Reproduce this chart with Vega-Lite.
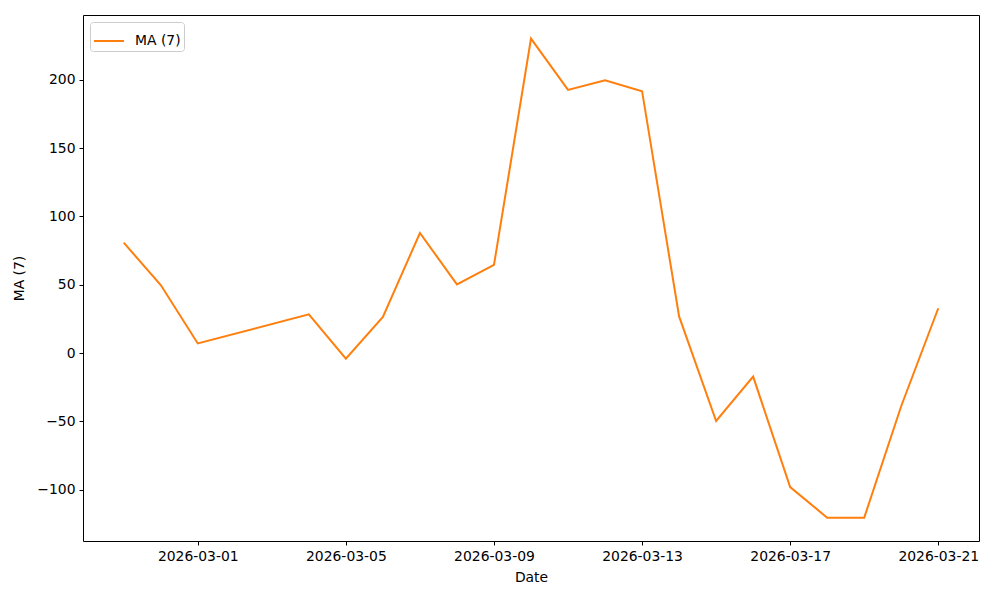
{
  "$schema": "https://vega.github.io/schema/vega-lite/v6.json",
  "width": 896,
  "height": 526,
  "autosize": "none",
  "padding": {"left": 83, "top": 15, "right": 21, "bottom": 59},
  "background": "white",
  "config": {
    "font": "DejaVu Sans",
    "view": {"stroke": "black", "strokeWidth": 1},
    "axis": {
      "grid": false,
      "domain": false,
      "tickColor": "black",
      "tickSize": 4,
      "tickWidth": 1,
      "labelColor": "black",
      "labelFontSize": 13.9,
      "labelFont": "DejaVu Sans",
      "titleFont": "DejaVu Sans",
      "titleFontSize": 13.9,
      "titleFontWeight": "normal",
      "titleColor": "black"
    }
  },
  "data": {
    "values": [
      {"date": "2026-02-27", "ma": 80.8, "series": "MA (7)"},
      {"date": "2026-02-28", "ma": 49.8, "series": "MA (7)"},
      {"date": "2026-03-01", "ma": 7.0, "series": "MA (7)"},
      {"date": "2026-03-04", "ma": 28.3, "series": "MA (7)"},
      {"date": "2026-03-05", "ma": -4.2, "series": "MA (7)"},
      {"date": "2026-03-06", "ma": 26.4, "series": "MA (7)"},
      {"date": "2026-03-07", "ma": 87.9, "series": "MA (7)"},
      {"date": "2026-03-08", "ma": 50.3, "series": "MA (7)"},
      {"date": "2026-03-09", "ma": 64.5, "series": "MA (7)"},
      {"date": "2026-03-10", "ma": 230.3, "series": "MA (7)"},
      {"date": "2026-03-11", "ma": 192.7, "series": "MA (7)"},
      {"date": "2026-03-12", "ma": 199.8, "series": "MA (7)"},
      {"date": "2026-03-13", "ma": 191.8, "series": "MA (7)"},
      {"date": "2026-03-14", "ma": 26.8, "series": "MA (7)"},
      {"date": "2026-03-15", "ma": -49.8, "series": "MA (7)"},
      {"date": "2026-03-16", "ma": -17.3, "series": "MA (7)"},
      {"date": "2026-03-17", "ma": -98.2, "series": "MA (7)"},
      {"date": "2026-03-18", "ma": -120.6, "series": "MA (7)"},
      {"date": "2026-03-19", "ma": -120.6, "series": "MA (7)"},
      {"date": "2026-03-20", "ma": -38.8, "series": "MA (7)"},
      {"date": "2026-03-21", "ma": 32.8, "series": "MA (7)"}
    ]
  },
  "mark": {"type": "line", "strokeWidth": 2, "clip": true},
  "encoding": {
    "x": {
      "field": "date",
      "type": "temporal",
      "title": "Date",
      "scale": {
        "type": "utc",
        "domain": [
          {"year": 2026, "month": 2, "date": 25, "hours": 21, "minutes": 36, "utc": true},
          {"year": 2026, "month": 3, "date": 22, "hours": 2, "minutes": 24, "utc": true}
        ]
      },
      "axis": {
        "values": [
          {"year": 2026, "month": 3, "date": 1, "utc": true},
          {"year": 2026, "month": 3, "date": 5, "utc": true},
          {"year": 2026, "month": 3, "date": 9, "utc": true},
          {"year": 2026, "month": 3, "date": 13, "utc": true},
          {"year": 2026, "month": 3, "date": 17, "utc": true},
          {"year": 2026, "month": 3, "date": 21, "utc": true}
        ],
        "labelExpr": "utcFormat(datum.value, '%Y-%m-%d')",
        "labelPadding": 4,
        "titlePadding": 8
      }
    },
    "y": {
      "field": "ma",
      "type": "quantitative",
      "title": "MA (7)",
      "scale": {"domain": [-137.7, 247.6], "nice": false, "zero": false},
      "axis": {
        "values": [-100, -50, 0, 50, 100, 150, 200],
        "labelExpr": "replace(format(datum.value, 'd'), '-', '\u2212')",
        "labelPadding": 4,
        "titlePadding": 10
      }
    },
    "color": {
      "field": "series",
      "type": "nominal",
      "scale": {"range": ["#ff7f0e"]},
      "legend": {
        "title": null,
        "orient": "top-left",
        "offset": 7,
        "symbolType": "stroke",
        "symbolSize": 900,
        "symbolStrokeWidth": 2,
        "labelFontSize": 13.9,
        "labelOffset": 10,
        "labelColor": "black",
        "labelFont": "DejaVu Sans",
        "fillColor": "white",
        "strokeColor": "#cccccc",
        "cornerRadius": 3,
        "padding": 3
      }
    }
  }
}
